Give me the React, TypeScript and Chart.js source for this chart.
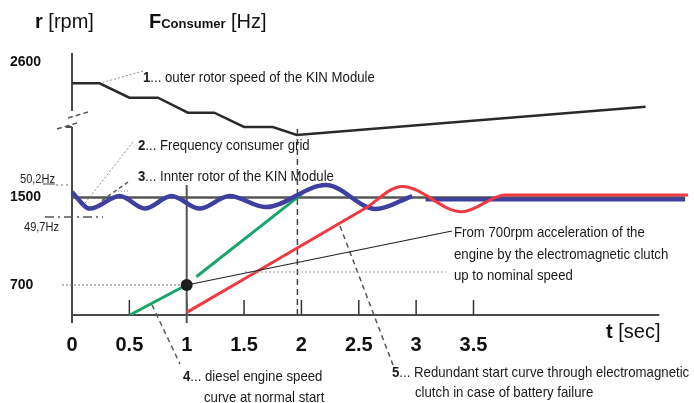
import React, { useEffect, useRef } from 'react';
import { Chart, registerables } from 'chart.js';

Chart.register(...registerables);

// ---------- data (time in s, speed in rpm) ----------
const X_TICKS = [0, 0.5, 1, 1.5, 2, 2.5, 3, 3.5];
const Y_TICKS_LOWER = [700, 1500];
const Y_TICKS_UPPER = [2600];

// 1 ... outer rotor speed of the KIN module (upper, broken axis part)
const OUTER_T = [0, 0.24, 0.5, 0.75, 1.01, 1.24, 1.5, 1.75, 1.96, 5.0];
const OUTER_RPM = [2405, 2405, 2273, 2273, 2136, 2136, 2005, 2005, 1932, 2191];

// 2/3 ... grid frequency / inner rotor (blue), oscillating around nominal
const GRID_T = [0, 0.156, 0.417, 0.634, 0.867, 1.112, 1.373, 1.686, 2.214, 2.648, 2.966];
const GRID_RPM = [1550, 1399, 1514, 1399, 1514, 1399, 1514, 1413, 1614, 1395, 1514];
const GRID_SETTLED_T = [3.083, 5.345];
const GRID_SETTLED_RPM = [1482, 1482];

// nominal speed line
const NOMINAL_T = [0, 5.345];
const NOMINAL_RPM = [1500, 1500];

// 4 ... diesel engine speed at normal start (green)
const DIESEL_T = [0.504, 0.997, 1.04, 1.084, 2.01];
const DIESEL_RPM = [426, 700, null, 776, 1538];

// 5 ... redundant start through electromagnetic clutch (red)
const REDUNDANT_T = [1.0, 2.546, 2.879, 3.398, 3.778, 5.371];
const REDUNDANT_RPM = [450, 1395, 1601, 1370, 1523, 1523];

// clutch engagement point
const DOT_T = 1.0;
const DOT_RPM = 700;

// vertical markers
const MARK1_T = [1, 1];
const MARK1_RPM = [353, 1614];
const MARK2_T = [1.965, 1.965];
const MARK2_RPM = [426, 2163];

const AXIS_END_T = 5.12;

const FONT = '"Liberation Sans", Arial, Helvetica, sans-serif';

type Part = [string, boolean, number?];

function drawRuns(ctx: CanvasRenderingContext2D, parts: Part[], x: number, y: number, size: number, sx: number, color = '#1a1a1a') {
  let cx = x;
  for (const [s, bold, sz] of parts) {
    ctx.save();
    ctx.font = `${bold ? 'bold ' : ''}${sz ?? size}px ${FONT}`;
    ctx.fillStyle = color;
    ctx.textAlign = 'left';
    ctx.textBaseline = 'alphabetic';
    ctx.translate(cx, y);
    ctx.scale(sx, 1);
    ctx.fillText(s, 0, 0);
    const w = ctx.measureText(s).width * sx;
    ctx.restore();
    cx += w;
  }
}

const NOTES: { x: number; y: number; parts: Part[] }[] = [
  { x: 143, y: 82, parts: [['1', true], ['... outer rotor speed of the KIN Module', false]] },
  { x: 138, y: 150, parts: [['2', true], ['... Frequency consumer grid', false]] },
  { x: 138, y: 181, parts: [['3', true], ['... Innter rotor of the KIN Module', false]] },
  { x: 454, y: 237, parts: [['From 700rpm acceleration of the', false]] },
  { x: 454, y: 259, parts: [['engine by the electromagnetic clutch', false]] },
  { x: 454, y: 280, parts: [['up to nominal speed', false]] },
  { x: 183, y: 381, parts: [['4', true], ['... diesel engine speed', false]] },
  { x: 204, y: 402, parts: [['curve at normal start', false]] },
  { x: 392, y: 377, parts: [['5', true], ['... Redundant start curve through electromagnetic', false]] },
  { x: 415, y: 397, parts: [['clutch in case of battery failure', false]] },
];

const LEADERS: { a: [number, number]; b: [number, number]; dash: number[]; color: string; w: number }[] = [
  { a: [143, 71], b: [101, 83], dash: [2, 2], color: '#8a8a8a', w: 1 },
  { a: [133, 142], b: [82, 207], dash: [2, 2], color: '#8a8a8a', w: 1 },
  { a: [128, 182], b: [100, 202], dash: [4, 3], color: '#555', w: 1.5 },
  { a: [115, 191], b: [128, 191], dash: [1, 2], color: '#888', w: 1 },
  { a: [152, 305], b: [180, 364], dash: [5, 4], color: '#555', w: 1.5 },
  { a: [340, 226], b: [393, 365], dash: [5, 4], color: '#555', w: 1.5 },
  { a: [62, 285], b: [181, 285], dash: [2, 2], color: '#777', w: 1 },
  { a: [245, 272], b: [446, 272], dash: [2, 2], color: '#999', w: 1 },
  { a: [56, 185], b: [70, 185], dash: [2, 3], color: '#666', w: 1 },
  { a: [43, 184], b: [55, 184], dash: [], color: '#444', w: 1 },
  { a: [45, 217], b: [103, 217], dash: [9, 4, 2, 4], color: '#555', w: 1.5 },
];

function line(ctx: CanvasRenderingContext2D, x1: number, y1: number, x2: number, y2: number, color: string, w: number, dash: number[] = []) {
  ctx.save();
  ctx.strokeStyle = color;
  ctx.lineWidth = w;
  ctx.setLineDash(dash);
  ctx.beginPath();
  ctx.moveTo(x1, y1);
  ctx.lineTo(x2, y2);
  ctx.stroke();
  ctx.restore();
}

const decorations = {
  id: 'decorations',
  beforeDatasetsDraw(chart: any) {
    const ctx: CanvasRenderingContext2D = chart.ctx;
    const { left, top, bottom } = chart.chartArea;
    const xs = chart.scales.x;
    const AX = '#4a4a4a';
    // y axis with break
    line(ctx, left, top, left, 111, AX, 2);
    line(ctx, left, 127, left, bottom + 8, AX, 2);
    line(ctx, 66, 127, left, 127, AX, 2);
    line(ctx, 68, 118, 88, 112, '#555', 1.5, [5, 3]);
    line(ctx, 57, 129, 77, 123, '#555', 1.5, [5, 3]);
    // x axis
    line(ctx, left, bottom, xs.getPixelForValue(AXIS_END_T), bottom, AX, 2);
    for (const v of X_TICKS) {
      if (v === 0) continue;
      const px = xs.getPixelForValue(v);
      line(ctx, px, bottom - 15, px, bottom, '#333', 1.5);
    }
  },
  afterDatasetsDraw(chart: any) {
    const ctx: CanvasRenderingContext2D = chart.ctx;
    for (const l of LEADERS) line(ctx, l.a[0], l.a[1], l.b[0], l.b[1], l.color, l.w, l.dash);
    const dx = chart.scales.x.getPixelForValue(DOT_T);
    const dy = chart.scales.y.getPixelForValue(DOT_RPM);
    line(ctx, dx, dy, 452, 231, '#222', 1.2);
  },
  afterDraw(chart: any) {
    const ctx: CanvasRenderingContext2D = chart.ctx;
    for (const n of NOTES) drawRuns(ctx, n.parts, n.x, n.y, 15, 0.88);
    drawRuns(ctx, [['r', true], [' [rpm]', false]], 35, 27.5, 20, 1, '#111');
    drawRuns(ctx, [['F', true], ['Consumer', true, 13], [' [Hz]', false]], 149, 28, 20, 1, '#111');
    drawRuns(ctx, [['t', true], [' [sec]', false]], 606, 338, 20, 1, '#111');
    drawRuns(ctx, [['50,2Hz', false]], 20, 183, 13, 0.85, '#222');
    drawRuns(ctx, [['49,7Hz', false]], 24, 231, 13, 0.85, '#222');
  },
};

function pts(t: number[], r: (number | null)[]) {
  return t.map((x, i) => ({ x, y: r[i] }));
}

export default function App() {
  const ref = useRef<HTMLCanvasElement>(null);
  useEffect(() => {
    if (!ref.current) return;
    const base = { pointRadius: 0, fill: false, tension: 0 };
    const chart = new Chart(ref.current, {
      type: 'line',
      data: {
        datasets: [
          { ...base, data: [{ x: DOT_T, y: DOT_RPM }], yAxisID: 'y', showLine: false, pointRadius: 6, pointBackgroundColor: '#1c1c1c', pointBorderWidth: 0, order: 0 } as any,
          { ...base, data: pts(REDUNDANT_T, REDUNDANT_RPM), yAxisID: 'y', borderColor: '#ee3a40', borderWidth: 3, cubicInterpolationMode: 'monotone', clip: false, order: 1 },
          { ...base, data: pts(GRID_T, GRID_RPM), yAxisID: 'y', borderColor: '#3e3f9e', borderWidth: 4.5, cubicInterpolationMode: 'monotone', clip: false, order: 2 },
          { ...base, data: pts(GRID_SETTLED_T, GRID_SETTLED_RPM), yAxisID: 'y', borderColor: '#3e3f9e', borderWidth: 4, order: 2 },
          { ...base, data: pts(DIESEL_T, DIESEL_RPM), yAxisID: 'y', borderColor: '#1aa56b', borderWidth: 3, spanGaps: false, order: 3 },
          { ...base, data: pts(OUTER_T, OUTER_RPM), yAxisID: 'y2', borderColor: '#2a2a2a', borderWidth: 2.5, clip: false, order: 4 } as any,
          { ...base, data: pts(NOMINAL_T, NOMINAL_RPM), yAxisID: 'y', borderColor: '#555', borderWidth: 2.5, order: 5 },
          { ...base, data: pts(MARK1_T, MARK1_RPM), yAxisID: 'y', borderColor: '#555', borderWidth: 2, clip: false, order: 6 } as any,
          { ...base, data: pts(MARK2_T, MARK2_RPM), yAxisID: 'y', borderColor: '#444', borderWidth: 1.5, borderDash: [6, 4], order: 6 },
        ],
      },
      options: {
        responsive: false,
        animation: false,
        events: [],
        layout: { padding: { top: 53, left: 10, right: 4, bottom: 0 } },
        plugins: { legend: { display: false }, tooltip: { enabled: false }, title: { display: false } },
        scales: {
          x: {
            type: 'linear',
            min: 0,
            max: 5.37,
            grid: { display: false, drawTicks: false },
            border: { display: false },
            afterBuildTicks: (s: any) => { s.ticks = X_TICKS.map((v) => ({ value: v })); },
            afterFit: (s: any) => { s.height = 88; },
            ticks: {
              autoSkip: false,
              maxRotation: 0,
              padding: 18,
              color: '#111',
              font: { family: FONT, size: 20, weight: 'bold' },
              callback: (v: any) => String(v),
            },
          },
          y: {
            type: 'linear',
            position: 'left',
            stack: 'rpm',
            stackWeight: 195,
            weight: 0,
            min: 426,
            max: 2209,
            grid: { display: false, drawTicks: false },
            border: { display: false },
            afterBuildTicks: (s: any) => { s.ticks = Y_TICKS_LOWER.map((v) => ({ value: v })); },
            afterFit: (s: any) => { s.width = 62; },
            ticks: { autoSkip: false, crossAlign: 'far', color: '#111', font: { family: FONT, size: 14, weight: 'bold' }, callback: (v: any) => String(v) },
          },
          y2: {
            type: 'linear',
            position: 'left',
            stack: 'rpm',
            stackWeight: 67,
            weight: 1,
            min: 2069,
            max: 2682,
            grid: { display: false, drawTicks: false },
            border: { display: false },
            afterBuildTicks: (s: any) => { s.ticks = Y_TICKS_UPPER.map((v) => ({ value: v })); },
            afterFit: (s: any) => { s.width = 62; },
            ticks: { autoSkip: false, crossAlign: 'far', color: '#111', font: { family: FONT, size: 14, weight: 'bold' }, callback: (v: any) => String(v) },
          },
        },
      } as any,
      plugins: [decorations],
    });
    return () => chart.destroy();
  }, []);
  return (
    <div style={{ position: 'absolute', left: 0, top: 0, width: 694, height: 403, background: '#fff' }}>
      <canvas ref={ref} width={694} height={403} />
    </div>
  );
}
